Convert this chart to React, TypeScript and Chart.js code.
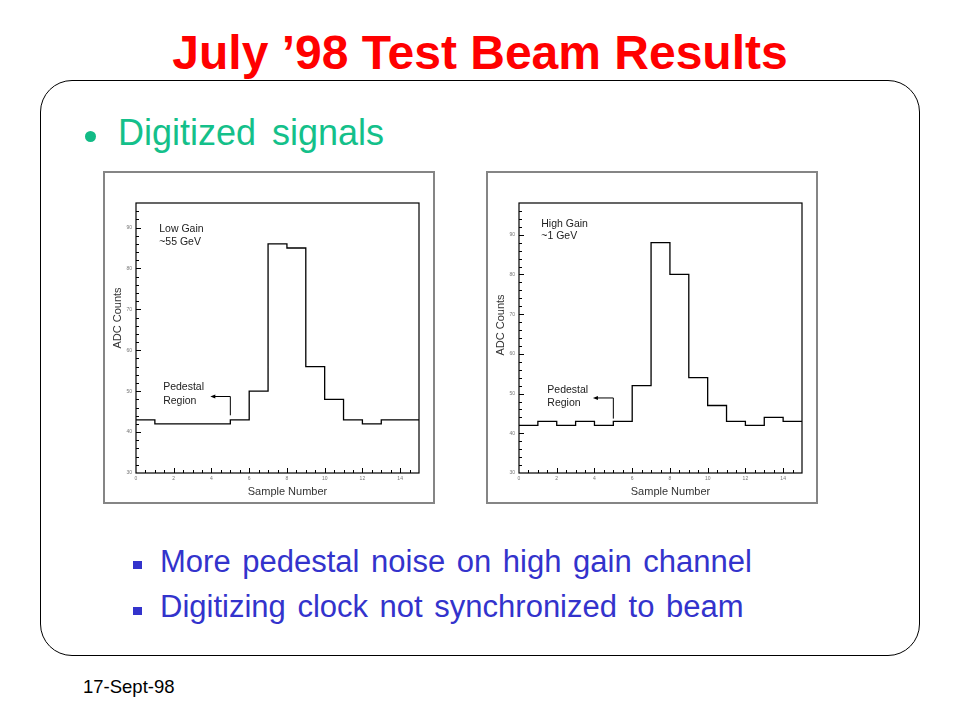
import React, { useEffect, useRef } from "react";
import { Chart, registerables } from "chart.js";

Chart.register(...registerables);

// ---- data ----
const sampleEdges = [0, 1, 2, 3, 4, 5, 6, 7, 8, 9, 10, 11, 12, 13, 14, 15];
const lowGainCounts = [43, 42, 42, 42, 42, 43, 50, 86, 85, 56, 48, 43, 42, 43, 43];
const highGainCounts = [42, 43, 42, 43, 42, 43, 52, 88, 80, 54, 47, 43, 42, 44, 43];
const xTickLabels = [0, 2, 4, 6, 8, 10, 12, 14];
const yTickLabels = [30, 40, 50, 60, 70, 80, 90];
const lowGainYMax = 96;
const highGainYMax = 98;
const lowGainNote = ["Low Gain", "~55 GeV"];
const highGainNote = ["High Gain", "~1 GeV"];
const pedestalNote = ["Pedestal", "Region"];

const FONT = "'Liberation Sans', Arial, Helvetica, sans-serif";

type Ann = {
  gainAt: [number, number, number]; // x, y line1, y line2
  pedAt: [number, number, number];
  arrow: [number, number, number, number]; // x, yLow, yHigh, xEnd
  titleShiftY: number;
};

function HistChart(props: {
  counts: number[];
  yMax: number;
  note: string[];
  ann: Ann;
  left: number;
  top: number;
}) {
  const ref = useRef<HTMLCanvasElement | null>(null);
  useEffect(() => {
    if (!ref.current) return;
    const { counts, yMax, note, ann } = props;
    const points = sampleEdges.map((x, i) => ({
      x,
      y: counts[Math.min(i, counts.length - 1)],
    }));
    const framePlugin = {
      id: "frame",
      afterDraw(chart: any) {
        const { ctx, chartArea: a } = chart;
        const xs = chart.scales.x;
        const ys = chart.scales.y;
        ctx.save();
        ctx.strokeStyle = "#000";
        ctx.lineWidth = 1.2;
        ctx.strokeRect(a.left, a.top, a.right - a.left, a.bottom - a.top);
        ctx.lineWidth = 1;
        ctx.beginPath();
        for (let v = xs.min + 0.5; v < xs.max; v += 0.5) {
          const px = Math.round(xs.getPixelForValue(v)) + 0.5;
          const len = v % 2 === 0 ? 5 : 3;
          ctx.moveTo(px, a.bottom);
          ctx.lineTo(px, a.bottom - len);
        }
        for (let v = ys.min + 2; v < ys.max; v += 2) {
          const py = Math.round(ys.getPixelForValue(v)) + 0.5;
          const len = v % 10 === 0 ? 5 : 3;
          ctx.moveTo(a.left, py);
          ctx.lineTo(a.left + len, py);
        }
        ctx.stroke();

        // axis titles
        ctx.fillStyle = "#333";
        ctx.font = `11px ${FONT}`;
        ctx.textAlign = "center";
        ctx.textBaseline = "middle";
        ctx.fillText("Sample Number", (a.left + a.right) / 2 + 10, a.bottom + 19);
        ctx.save();
        ctx.translate(a.left - 18.5, (a.top + a.bottom) / 2 + ann.titleShiftY);
        ctx.rotate(-Math.PI / 2);
        ctx.fillText("ADC Counts", 0, 0);
        ctx.restore();

        // annotations
        ctx.fillStyle = "#222";
        ctx.textAlign = "left";
        ctx.font = `10.5px ${FONT}`;
        const gx = xs.getPixelForValue(ann.gainAt[0]);
        ctx.fillText(note[0], gx, ys.getPixelForValue(ann.gainAt[1]));
        ctx.fillText(note[1], gx, ys.getPixelForValue(ann.gainAt[2]));
        const px = xs.getPixelForValue(ann.pedAt[0]);
        ctx.fillText(pedestalNote[0], px, ys.getPixelForValue(ann.pedAt[1]));
        ctx.fillText(pedestalNote[1], px, ys.getPixelForValue(ann.pedAt[2]));

        const ax = xs.getPixelForValue(ann.arrow[0]);
        const ay0 = ys.getPixelForValue(ann.arrow[1]);
        const ay1 = ys.getPixelForValue(ann.arrow[2]);
        const ax1 = xs.getPixelForValue(ann.arrow[3]);
        ctx.strokeStyle = "#000";
        ctx.lineWidth = 1;
        ctx.beginPath();
        ctx.moveTo(ax, ay0);
        ctx.lineTo(ax, ay1);
        ctx.lineTo(ax1 + 3, ay1);
        ctx.stroke();
        ctx.fillStyle = "#000";
        ctx.beginPath();
        ctx.moveTo(ax1, ay1);
        ctx.lineTo(ax1 + 5, ay1 - 2);
        ctx.lineTo(ax1 + 5, ay1 + 2);
        ctx.closePath();
        ctx.fill();
        ctx.restore();
      },
    };

    const chart = new Chart(ref.current, {
      type: "line",
      data: {
        datasets: [
          {
            data: points,
            stepped: "before",
            borderColor: "#000",
            borderWidth: 1.3,
            pointRadius: 0,
            fill: false,
          } as any,
        ],
      },
      options: {
        animation: false,
        responsive: false,
        maintainAspectRatio: false,
        layout: { padding: { left: 0, top: 32, right: 16, bottom: 0 } },
        plugins: {
          legend: { display: false },
          tooltip: { enabled: false },
        },
        scales: {
          x: {
            type: "linear",
            min: 0,
            max: 15,
            grid: { display: false, drawTicks: false },
            border: { display: false },
            ticks: {
              font: { size: 5, family: FONT },
              color: "#777",
              padding: 3,
              maxRotation: 0,
              autoSkip: false,
            },
            afterBuildTicks: (s: any) => {
              s.ticks = xTickLabels.map((v) => ({ value: v }));
            },
            afterFit: (s: any) => {
              s.height = 31;
              s.paddingLeft = 0;
              s.paddingRight = 0;
            },
          },
          y: {
            type: "linear",
            min: 30,
            max: yMax,
            grid: { display: false, drawTicks: false },
            border: { display: false },
            ticks: {
              font: { size: 5, family: FONT },
              color: "#777",
              padding: 4,
              autoSkip: false,
            },
            afterBuildTicks: (s: any) => {
              s.ticks = yTickLabels.map((v) => ({ value: v }));
            },
            afterFit: (s: any) => {
              s.width = 33;
              s.paddingTop = 0;
              s.paddingBottom = 0;
            },
          },
        },
      } as any,
      plugins: [framePlugin as any],
    });
    return () => chart.destroy();
  }, []);

  const W = 332;
  const H = 333;
  return (
    <>
      <div
        style={{
          position: "absolute",
          left: props.left,
          top: props.top,
          width: W,
          height: H,
          boxSizing: "border-box",
          border: "2px solid #858585",
          background: "#fff",
        }}
      />
      <canvas
        ref={ref}
        width={W}
        height={H}
        style={{ position: "absolute", left: props.left, top: props.top, width: W, height: H }}
      />
    </>
  );
}

const lowAnn: Ann = {
  gainAt: [1.23, 89.7, 86.5],
  pedAt: [1.44, 50.9, 47.6],
  arrow: [5, 44.1, 48.7, 3.94],
  titleShiftY: -20,
};
const highAnn: Ann = {
  gainAt: [1.18, 92.8, 89.6],
  pedAt: [1.5, 50.9, 47.7],
  arrow: [5, 43.7, 48.9, 3.92],
  titleShiftY: -13,
};

export default function App() {
  const txt = (extra: React.CSSProperties): React.CSSProperties => ({
    position: "absolute",
    fontFamily: FONT,
    lineHeight: 1,
    whiteSpace: "nowrap",
    margin: 0,
    ...extra,
  });
  return (
    <div
      style={{
        position: "absolute",
        left: 0,
        top: 0,
        width: 960,
        height: 720,
        background: "#fff",
        overflow: "hidden",
      }}
    >
      <div
        style={txt({
          left: 0,
          width: 960,
          textAlign: "center",
          top: 29.4,
          fontSize: 48,
          fontWeight: "bold",
          color: "#ff0000",
        })}
      >
        July ’98 Test Beam Results
      </div>
      <div
        style={{
          position: "absolute",
          left: 40,
          top: 80,
          width: 880,
          height: 576,
          boxSizing: "border-box",
          border: "1.3px solid #000",
          borderRadius: 32,
        }}
      />
      <div
        style={{
          position: "absolute",
          left: 84.5,
          top: 130.5,
          width: 11,
          height: 11,
          borderRadius: "50%",
          background: "#12bb86",
        }}
      />
      <div style={txt({ left: 118, top: 114.5, fontSize: 36, color: "#14c08a", wordSpacing: 6 })}>
        Digitized signals
      </div>

      <HistChart counts={lowGainCounts} yMax={lowGainYMax} note={lowGainNote} ann={lowAnn} left={103} top={171} />
      <HistChart counts={highGainCounts} yMax={highGainYMax} note={highGainNote} ann={highAnn} left={486} top={171} />

      <div style={{ position: "absolute", left: 133, top: 561, width: 9, height: 8, background: "#3333cc" }} />
      <div style={txt({ left: 160, top: 545.8, fontSize: 31, color: "#3333cc", wordSpacing: 3 })}>
        More pedestal noise on high gain channel
      </div>
      <div style={{ position: "absolute", left: 133, top: 607, width: 9, height: 8, background: "#3333cc" }} />
      <div style={txt({ left: 160, top: 590.8, fontSize: 31, color: "#3333cc", wordSpacing: 3 })}>
        Digitizing clock not synchronized to beam
      </div>
      <div style={txt({ left: 83, top: 678.4, fontSize: 18.5, color: "#000" })}>17-Sept-98</div>
    </div>
  );
}
